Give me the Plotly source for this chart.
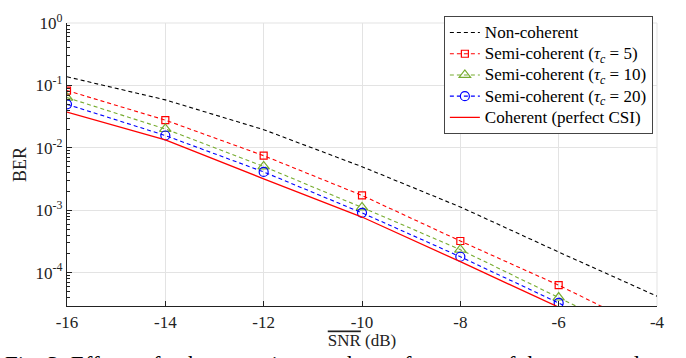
import plotly.graph_objects as go

snr = [-16, -14, -12, -10, -8, -6, -4]
ber_noncoh = [0.138, 0.0589, 0.0196, 5.0e-3, 1.13e-3, 2.14e-4, 4.2e-5]
ber_semi5 = [0.083, 0.0279, 7.5e-3, 1.73e-3, 3.22e-4, 6.3e-5, 1.05e-5]
ber_semi10 = [0.064, 0.0201, 5.05e-3, 1.11e-3, 2.34e-4, 4.0e-5, 6.8e-6]
ber_semi20 = [0.050, 0.0158, 4.12e-3, 9.1e-4, 1.8e-4, 3.27e-5, 5.2e-6]
ber_coh = [0.0376, 0.01345, 3.2e-3, 7.8e-4, 1.5e-4, 2.8e-5, 4.5e-6]

series_names = ["Non-coherent",
                "Semi-coherent (<i>τ</i><sub><i>c</i></sub> = 5)",
                "Semi-coherent (<i>τ</i><sub><i>c</i></sub> = 10)",
                "Semi-coherent (<i>τ</i><sub><i>c</i></sub> = 20)",
                "Coherent (perfect CSI)"]

xticks = [-16, -14, -12, -10, -8, -6, -4]
yticks = [1e-4, 1e-3, 1e-2, 1e-1, 1]
ytick_text = ["10<sup>-4</sup>", "10<sup>-3</sup>", "10<sup>-2</sup>", "10<sup>-1</sup>", "10<sup>0</sup>"]
yminor = [m * 10.0 ** e for e in range(-5, 0) for m in range(2, 10) if 3e-5 <= m * 10.0 ** e < 1]

FONT = "Liberation Serif, Times New Roman, serif"
GRID = "#e3e3e3"


def lg(t):
    return '<span style="font-size:17px">' + t + '</span>'


fig = go.Figure()
fig.add_trace(go.Scatter(x=snr, y=ber_noncoh, mode="lines", name=lg(series_names[0]),
                         line=dict(color="black", width=1.1, dash="4px,3px")))
fig.add_trace(go.Scatter(x=snr, y=ber_semi5, mode="lines+markers", name=lg(series_names[1]),
                         line=dict(color="#ff0000", width=1.1, dash="4px,3px"),
                         marker=dict(symbol="square-open", size=7, color="#ff0000", line=dict(width=1.2))))
fig.add_trace(go.Scatter(x=snr, y=ber_semi10, mode="lines+markers", name=lg(series_names[2]),
                         line=dict(color="#77ac30", width=1.1, dash="4px,3px"),
                         marker=dict(symbol="triangle-up-open", size=10, color="#77ac30", line=dict(width=1.2))))
fig.add_trace(go.Scatter(x=snr, y=ber_semi20, mode="lines+markers", name=lg(series_names[3]),
                         line=dict(color="#0000ff", width=1.1, dash="4px,3px"),
                         marker=dict(symbol="circle-open", size=9, color="#0000ff", line=dict(width=1.2))))
fig.add_trace(go.Scatter(x=snr, y=ber_coh, mode="lines", name=lg(series_names[4]),
                         line=dict(color="#ff0000", width=1.3)))

fig.update_layout(
    width=686, height=358,
    margin=dict(l=67, r=29, t=11, b=52),
    paper_bgcolor="white", plot_bgcolor="white",
    font=dict(family=FONT, size=17, color="#222"),
    showlegend=True,
    legend=dict(x=0.993, y=1.025, xanchor="right", yanchor="top",
                bgcolor="white", bordercolor="#444", borderwidth=1,
                font=dict(family=FONT, size=14, color="black"),
                tracegroupgap=0, itemwidth=30),
    shapes=[dict(type="line", xref="paper", yref="paper", x0=0, x1=1, y0=1, y1=1,
                 line=dict(color=GRID, width=1), layer="below"),
            dict(type="line", xref="paper", yref="paper", x0=1, x1=1, y0=0, y1=1,
                 line=dict(color=GRID, width=1), layer="below")],
    annotations=[dict(text="Fig. 3: Effects of coherence time on the performance of the proposed",
                      xref="paper", yref="paper", x=-0.108, y=-0.155, xanchor="left", yanchor="top",
                      showarrow=False, font=dict(family=FONT, size=23, color="black"))],
)
fig.update_xaxes(range=[-16, -4], tickvals=xticks, ticktext=[str(v) for v in xticks],
                 tickfont=dict(family=FONT, size=17, color="#222"),
                 showgrid=True, gridcolor=GRID, gridwidth=1,
                 showline=True, linecolor="#222", linewidth=1.2,
                 ticks="inside", ticklen=5, tickcolor="#222", zeroline=False,
                 title=dict(text='<span style="text-decoration:overline">SNR</span> (dB)',
                            standoff=2, font=dict(family=FONT, size=17, color="#222")))
fig.update_yaxes(type="log", range=[-4.534, 0.002], tickvals=yticks, ticktext=ytick_text,
                 tickfont=dict(family=FONT, size=17, color="#222"),
                 showgrid=True, gridcolor=GRID, gridwidth=1, ticklabeloverflow="allow",
                 showline=True, linecolor="#222", linewidth=1.2,
                 ticks="inside", ticklen=5, tickcolor="#222", zeroline=False,
                 minor=dict(tickmode="array", tickvals=yminor, ticks="inside", ticklen=3,
                            tickcolor="#222", showgrid=False),
                 title=dict(text="BER", standoff=4, font=dict(family=FONT, size=18, color="#222")))

fig.write_html("out.html", config={"displayModeBar": False},
               post_script="document.body.style.margin='0';document.body.style.overflow='hidden';")
